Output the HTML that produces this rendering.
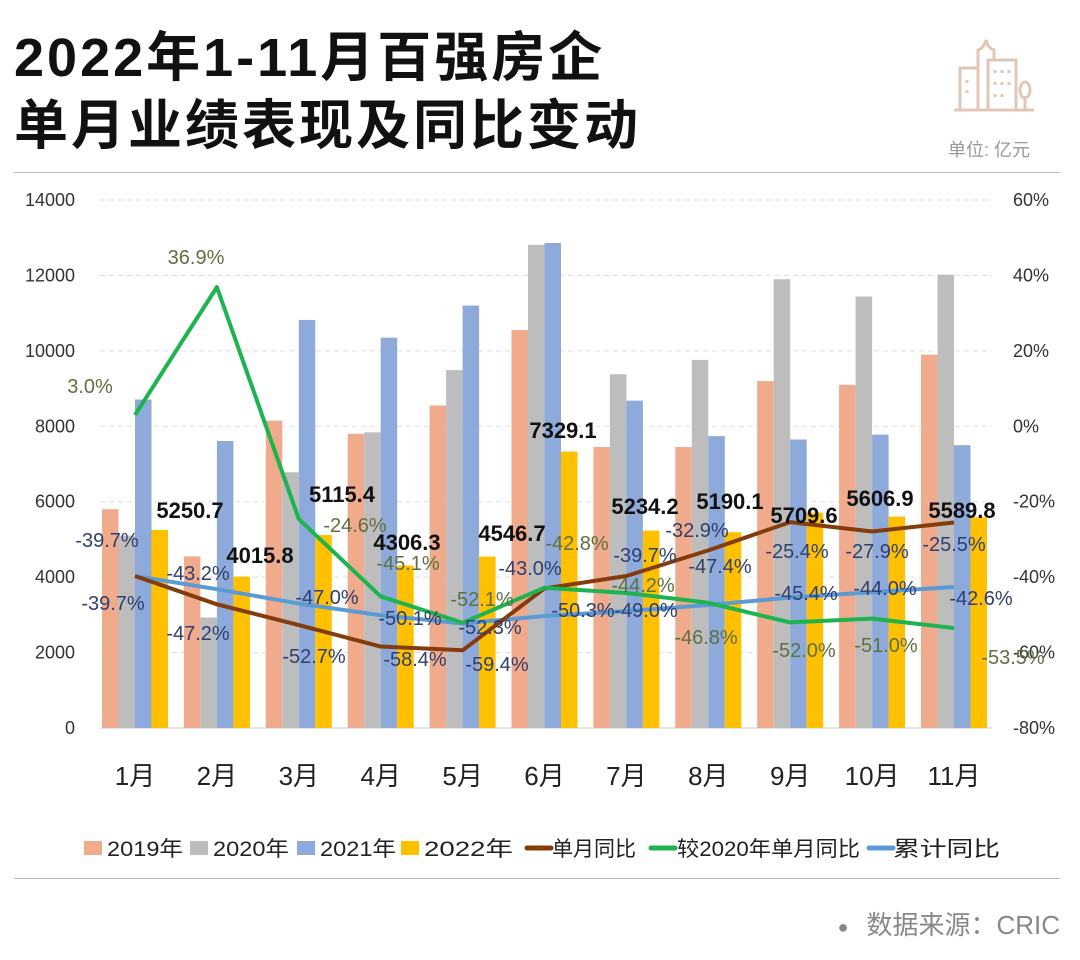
<!DOCTYPE html>
<html><head><meta charset="utf-8">
<style>
body{margin:0;width:1080px;height:960px;background:#fff;overflow:hidden;font-family:"Liberation Sans","Noto Sans CJK SC",sans-serif;}
.t{position:absolute;left:14px;font-size:54px;font-weight:bold;color:#111;letter-spacing:3px;line-height:1;white-space:nowrap;}
</style></head><body>
<div class="t" style="top:31px">2022年1-11月百强房企</div>
<div class="t" style="top:99px">单月业绩表现及同比变动</div>
<svg style="position:absolute;left:950px;top:30px" width="100" height="90" viewBox="0 0 100 90" fill="none" stroke="#e3c7b6" stroke-width="3">
<path d="M10 80V38h18V80M28 38V20q6-2 8-10q2 8 8 10v10M38 80V30h28v50M4 80h80M75 80V66M70 60a5 8 0 1 0 10 0a5 8 0 1 0-10 0"/>
<path d="M17 50v3M17 60v3M45 40v3M52 40v3M59 40v3M45 52v3M52 52v3M59 52v3M45 64v3M52 64v3"/>
</svg>
<div style="position:absolute;left:948px;top:136px;font-size:18px;color:#999">单位: 亿元</div>
<div style="position:absolute;left:14px;top:172px;width:1046px;height:1px;background:#bbb"></div>
<div style="position:absolute;left:14px;top:878px;width:1046px;height:1px;background:#bbb"></div>
<div style="position:absolute;right:20px;top:905px;font-size:26px;color:#888"><span style="font-size:18px;margin-right:18px;vertical-align:middle">●</span>数据来源：CRIC</div>
<svg id="chart" style="position:absolute;left:0;top:0" width="1080" height="960"></svg>
<script>
const months=["1月","2月","3月","4月","5月","6月","7月","8月","9月","10月","11月"];
const v2019=[5800,4550,8150,7800,8550,10550,7450,7450,9200,9100,9900];
const v2020=[5100,2930,6780,7840,9490,12810,9380,9760,11900,11440,12020];
const v2021=[8710,7610,10820,10350,11200,12860,8680,7740,7650,7780,7500];
const v2022=[5250.7,4015.8,5115.4,4306.3,4546.7,7329.1,5234.2,5190.1,5709.6,5606.9,5589.8];
const yoyMonth=[-39.7,-47.2,-52.7,-58.4,-59.4,-43.0,-39.7,-32.9,-25.4,-27.9,-25.5];
const vs2020=[3.0,36.9,-24.6,-45.1,-52.1,-42.8,-44.2,-46.8,-52.0,-51.0,-53.5];
const yoyCum=[-39.7,-43.2,-47.0,-50.1,-52.3,-50.3,-49.0,-47.4,-45.4,-44.0,-42.6];
const leftTicks=[0,2000,4000,6000,8000,10000,12000,14000];
const rightTicks=[-80,-60,-40,-20,0,20,40,60];
// label positions (layout only)
const lbl2022=[[190,518],[260,563],[342,502],[407,550],[512,541],[563,438],[645,514],[730,509],[804,523],[880,506],[962,518]];
const lblGreen=[[90,393],[196,264],[355,532],[408,570],[482,606],[577,550],[643,592],[706,644],[804,657],[886,652],[1013,664]];
const lblBrown=[[113,610],[198,640],[314,663],[415,666],[497,671],[530,575],[645,562],[697,537],[797,558],[877,558],[954,551]];
const lblBlue=[[107,547],[198,580],[327,604],[410,625],[490,634],[583,617],[646,617],[720,573],[806,600],[885,595],[981,605]];

const svg=document.getElementById('chart');const NS="http://www.w3.org/2000/svg";
function el(t,a,p){const e=document.createElementNS(NS,t);for(const k in a)e.setAttribute(k,a[k]);(p||svg).appendChild(e);return e;}
const Y0=728,Y1=200;
const yL=v=>Y0-(v/14000)*(Y0-Y1);
const yR=v=>Y0-((v+80)/140)*(Y0-Y1);
const xC=i=>135+81.9*i;
const BW=16.5;
leftTicks.forEach(t=>{
 const g=el('line',{x1:100,x2:992,y1:yL(t),y2:yL(t),stroke:t===0?'#ccc':'#ddd','stroke-dasharray':t===0?'':'5,4'});
 
 
 const tx=el('text',{x:75,y:yL(t)+6,'text-anchor':'end','font-size':18,fill:'#333'});tx.textContent=t;
 
 
});
rightTicks.forEach(t=>{
 const tx=el('text',{x:1013,y:yR(t)+6,'font-size':18,fill:'#333'});tx.textContent=t+'%';
 
 
});
const series=[[v2019,'#f0aa8c','bar-2019'],[v2020,'#bdbdbd','bar-2020'],[v2021,'#8eaadb','bar-2021'],[v2022,'#ffc000','bar-2022']];
months.forEach((m,i)=>{
 series.forEach((s,k)=>{
  const v=s[0][i];const x=xC(i)-33+k*BW;
  const r=el('rect',{x:x,y:yL(v),width:BW,height:Y0-yL(v),fill:s[1]});
  
  
 });
 const tx=el('text',{x:xC(i),y:785,'text-anchor':'middle','font-size':26,fill:'#222'});tx.textContent=m;
 
 
});
function line(arr,color,name){
 const p=el('polyline',{points:arr.map((v,i)=>xC(i)+','+yR(v)).join(' '),fill:'none',stroke:color,'stroke-width':4,'stroke-linejoin':'round'});
 
 
}
line(yoyCum,'#5b9bd5','line-cumulative-yoy');
line(yoyMonth,'#843c0c','line-monthly-yoy');
line(vs2020,'#1db34f','line-vs-2020');
function labels(pos,vals,color,fmt,name,bold){
 pos.forEach((p,i)=>{
  const t=el('text',{x:p[0],y:p[1],'text-anchor':'middle','font-size':bold?22:20,'font-weight':bold?'bold':'normal',fill:color});
  t.textContent=fmt(vals[i]);
  
  
 });
}
const pct=v=>v.toFixed(1)+'%';
labels(lbl2022,v2022,'#111',v=>v.toFixed(1),'value-label-2022',true);
labels(lblGreen,vs2020,'#5f7040',pct,'label-vs-2020',false);
labels(lblBrown,yoyMonth,'#2f3f6f',pct,'label-monthly-yoy',false);
labels(lblBlue,yoyCum,'#2f3f6f',pct,'label-cumulative-yoy',false);
// legend: type, color, text, marker x, text x, text width
const leg=[['rect','#f0aa8c','2019年',84,107,76],['rect','#bdbdbd','2020年',190,213,76],['rect','#8eaadb','2021年',297,320,76],['rect','#ffc000','2022年',401,424,89],['line','#843c0c','单月同比',527,552,84],['line','#1db34f','较2020年单月同比',651,677,183],['line','#5b9bd5','累计同比',869,893,107]];
leg.forEach(l=>{
 const g=el('g',{});
 
 
 if(l[0]==='rect')el('rect',{x:l[3],y:841,width:18,height:14,fill:l[1]},g);
 else el('line',{x1:l[3],x2:l[3]+24,y1:848,y2:848,stroke:l[1],'stroke-width':5,'stroke-linecap':'round'},g);
 const t=el('text',{x:l[4],y:856,'font-size':21,fill:'#222',textLength:l[5],lengthAdjust:'spacingAndGlyphs'},g);t.textContent=l[2];
});
</script>
</body></html>
